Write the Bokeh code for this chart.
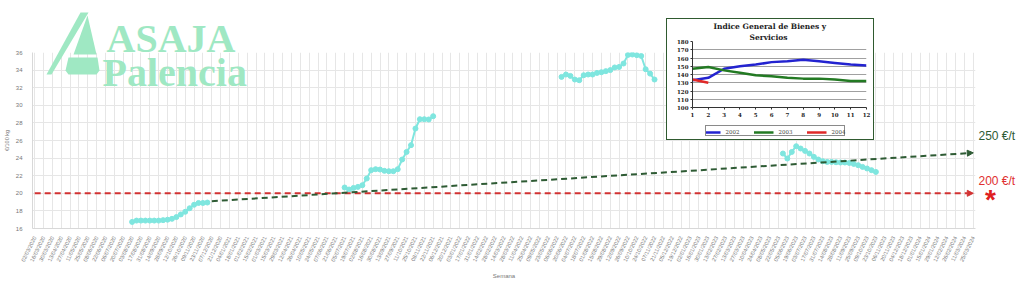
import math
import pandas as pd
from bokeh.plotting import figure
from bokeh.models import (Range1d, FixedTicker, Arrow, NormalHead,
                          Legend, LegendItem, Title)
from bokeh.embed import file_html
from bokeh.resources import INLINE
from bokeh.core.properties import value

# ---------------- data ----------------
semanas = [d.strftime("%d/%m/%Y") for d in pd.date_range("2020-03-02", periods=213, freq="7D")]
y_ticks = [16, 18, 20, 22, 24, 26, 28, 30, 32, 34, 36]

inicio_2020 = "03/08/2020"
precio_2020 = [16.75, 16.9, 16.9, 16.9, 16.9, 16.9, 16.9, 16.95, 17.0, 17.1,
               17.3, 17.6, 17.9, 18.3, 18.7, 18.9, 18.9, 18.95]
inicio_2021 = "05/07/2021"
precio_2021 = [20.66, 20.43, 20.61, 20.73, 20.92, 21.68, 22.63, 22.74, 22.7, 22.55,
               22.51, 22.51, 22.74, 23.84, 24.7, 25.47, 27.36, 28.42, 28.42, 28.39, 28.76]
inicio_2022 = "13/06/2022"
precio_2022 = [33.23, 33.5, 33.34, 32.93, 32.85, 33.42, 33.5, 33.5, 33.68, 33.76,
               33.88, 34.0, 34.3, 34.36, 34.75, 35.73, 35.77, 35.7, 35.6, 34.1, 33.6, 32.93]
inicio_2023 = "29/05/2023"
precio_2023 = [24.52, 23.95, 24.7, 25.35, 25.09, 24.82, 24.52, 24.14, 23.84, 23.65,
               23.57, 23.57, 23.53, 23.5, 23.5, 23.45, 23.34, 23.19, 23.0, 22.82, 22.63, 22.43]

objetivo_semanas = [semanas[0], semanas[-1]]
objetivo = [20.0, 20.0]          # 200 €/t
tendencia_semanas = ["07/12/2020", semanas[-1]]
tendencia = [19.1, 24.6]         # hacia 250 €/t

# inset: Indice General de Bienes y Servicios
meses = [1, 2, 3, 4, 5, 6, 7, 8, 9, 10, 11, 12]
ind_y_ticks = [100, 110, 120, 130, 140, 150, 160, 170, 180]
indice_2002 = [133, 136, 147, 150, 152, 155, 156, 158, 156, 154, 152, 151]
indice_2003 = [147, 149, 145, 142, 139, 138, 136, 135, 135, 134, 132, 132]
indice_2004 = [134, 130]
anios = ["2002", "2003", "2004"]

# ---------------- styles ----------------
CYAN = "#7fe6df"
GRID = "#e6e6e6"
RED = "#d23232"
DGREEN = "#2e5b34"
MINT = "#9fe8c3"
SANS = "Liberation Sans"
SERIF = "Liberation Serif"
DSERIF = "DejaVu Serif"
C02, C03, C04 = "#2323d0", "#237a23", "#e02828"

N = len(semanas)
idx = {s: i for i, s in enumerate(semanas)}

p = figure(width=1024, height=282, output_backend="svg", toolbar_location=None,
           x_range=Range1d(-0.5, N - 0.5), y_range=Range1d(16, 36),
           min_border_left=25, min_border_right=49, min_border_top=52,
           min_border_bottom=54)
p.outline_line_color = None
p.background_fill_color = "white"
p.border_fill_color = "white"

lab_ticks = list(range(0, N, 2))
p.xaxis.ticker = FixedTicker(ticks=lab_ticks)
p.xgrid.ticker = FixedTicker(ticks=lab_ticks)
p.xaxis.major_label_overrides = {i: semanas[i] for i in lab_ticks}
p.xaxis.major_label_orientation = math.radians(64)
p.yaxis.ticker = FixedTicker(ticks=y_ticks)
p.grid.grid_line_color = GRID
p.grid.grid_line_width = 1
for ax in (p.xaxis, p.yaxis):
    ax.axis_line_color = "#d8d8d8"
    ax.major_tick_line_color = None
    ax.minor_tick_line_color = None
    ax.major_label_text_font = SANS
    ax.major_label_text_color = "#777777"
    ax.axis_label_text_font = SANS
    ax.axis_label_text_color = "#777777"
    ax.axis_label_text_font_style = "normal"
p.xaxis.major_label_text_font_size = "5.5px"
p.yaxis.major_label_text_font_size = "6px"
p.xaxis.major_label_standoff = 2
p.yaxis.major_label_standoff = 4
p.xaxis.axis_label = "Semana"
p.xaxis.axis_label_text_font_size = "6px"
p.xaxis.axis_label_standoff = 6
p.yaxis.axis_label = "€/100 kg"
p.yaxis.axis_label_text_font_size = "5.5px"
p.yaxis.axis_label_standoff = 3

# reference lines (arrows)
p.add_layout(Arrow(x_start=idx[objetivo_semanas[0]], y_start=objetivo[0],
                   x_end=idx[objetivo_semanas[1]], y_end=objetivo[1],
                   line_color=RED, line_width=2, line_dash="6 4",
                   end=NormalHead(size=6, fill_color=RED, line_color=RED)))
p.add_layout(Arrow(x_start=idx[tendencia_semanas[0]], y_start=tendencia[0],
                   x_end=idx[tendencia_semanas[1]], y_end=tendencia[1],
                   line_color=DGREEN, line_width=2, line_dash="6 4",
                   end=NormalHead(size=6, fill_color=DGREEN, line_color=DGREEN)))

# price series
for inicio, vals in [(inicio_2020, precio_2020), (inicio_2021, precio_2021),
                     (inicio_2022, precio_2022), (inicio_2023, precio_2023)]:
    s = idx[inicio]
    xs = list(range(s, s + len(vals)))
    p.line(xs, vals, line_color=CYAN, line_width=2)
    p.scatter(xs, vals, size=5, fill_color=CYAN, line_color=CYAN)

# ---------------- right-hand annotations (shares the price y-range) ----------------
side = figure(width=49, height=282, output_backend="svg", toolbar_location=None,
              x_range=Range1d(0, 49), y_range=p.y_range,
              x_axis_location=None, y_axis_location=None,
              min_border_left=0, min_border_right=0, min_border_top=52,
              min_border_bottom=54,
              styles={"position": "absolute", "left": "975px", "top": "0px"})
side.grid.visible = False
side.outline_line_color = None
side.background_fill_color = None
side.border_fill_color = None
side.text(x=[3], y=[tendencia[1]], text=["250 €/t"], y_offset=-17,
          text_font=value(SANS), text_font_size="12px", text_color=DGREEN,
          text_baseline="middle")
side.text(x=[3], y=[objetivo[1]], text=["200 €/t"], y_offset=-12,
          text_font=value(SANS), text_font_size="12px", text_color="#e03030",
          text_baseline="middle")
side.text(x=[15], y=[objetivo[1]], text=["*"], y_offset=6,
          text_font=value(SANS), text_font_style="bold", text_font_size="28px",
          text_color="#e02020", text_align="center", text_baseline="alphabetic")

# ---------------- logo ----------------
logo = figure(width=262, height=95, output_backend="svg", toolbar_location=None,
              x_range=Range1d(0, 262), y_range=Range1d(95, 0),
              x_axis_location=None, y_axis_location=None, min_border=0,
              styles={"position": "absolute", "left": "0px", "top": "0px"})
logo.grid.visible = False
logo.outline_line_color = None
logo.background_fill_color = None
logo.border_fill_color = None
logo.patch([46, 51, 88, 80], [74, 74, 12, 12], fill_color=MINT, line_color=None)
logo.patch([73, 87, 96], [54, 15, 54], fill_color=MINT, line_color=None)
logo.patch([68, 97, 99, 96, 68, 65], [57, 57, 70, 74, 74, 70], fill_color=MINT, line_color=None)
logo.text(x=[106], y=[38], text=["ASAJA"], text_font=value(SERIF), text_font_style="bold",
          text_font_size="40px", text_color=MINT, text_baseline="alphabetic")
logo.text(x=[102], y=[72], text=["Palencia"], text_font=value(SERIF), text_font_style="bold",
          text_font_size="40px", text_color=MINT, text_baseline="alphabetic")

# ---------------- inset ----------------
ins = figure(width=208, height=122, output_backend="svg", toolbar_location=None,
             title=None,
             x_range=Range1d(1, 12), y_range=Range1d(100, 180),
             min_border_left=25, min_border_right=9, min_border_top=21,
             min_border_bottom=34,
             styles={"position": "absolute", "left": "666px", "top": "18px",
                     "border": "1.5px solid #2f5a2f", "background": "white"})
ins.outline_line_color = None
for txt, off in [("Servicios", 57), ("Indice General de Bienes y", 21)]:
    ins.add_layout(Title(text=txt, align="left", offset=off, standoff=0,
                         text_font=DSERIF, text_font_size="7.5px",
                         text_font_style="bold", text_color="#222222",
                         text_line_height=0.85), "above")
ins.xaxis.ticker = FixedTicker(ticks=meses)
ins.yaxis.ticker = FixedTicker(ticks=ind_y_ticks)
ins.xgrid.visible = False
ins.ygrid.grid_line_color = "#a0a0a0"
for ax in (ins.xaxis, ins.yaxis):
    ax.axis_line_color = "#333333"
    ax.major_tick_line_color = "#333333"
    ax.major_tick_in = 0
    ax.major_tick_out = 2
    ax.minor_tick_line_color = None
    ax.major_label_text_font = DSERIF
    ax.major_label_text_font_style = "bold"
    ax.major_label_text_font_size = "5.5px"
    ax.major_label_text_color = "#222222"
    ax.major_label_standoff = 2
ins.line(meses, indice_2002, line_color=C02, line_width=2.5)
ins.line(meses, indice_2003, line_color=C03, line_width=2.5)
ins.line(meses[:len(indice_2004)], indice_2004, line_color=C04, line_width=2.5)

# legend of the inset (own small canvas below the inset's axis)
legf = figure(width=140, height=11, output_backend="svg", toolbar_location=None,
              x_range=Range1d(-10, -9), y_range=Range1d(-10, -9),
              x_axis_location=None, y_axis_location=None, min_border=0,
              styles={"position": "absolute", "left": "705px", "top": "125px",
                      "border": "1px solid #8a8a8a", "background": "white"})
legf.grid.visible = False
legf.outline_line_color = None
legf.background_fill_color = None
legf.border_fill_color = None
items = []
for anio, serie, col in zip(anios, [indice_2002, indice_2003, indice_2004], [C02, C03, C04]):
    r = legf.line(meses[:len(serie)], serie, line_color=col, line_width=2.5)
    items.append(LegendItem(label=anio, renderers=[r]))
leg = Legend(items=items, orientation="horizontal", location="center",
             label_text_font=DSERIF, label_text_font_size="5.5px",
             label_height=6, glyph_width=20, glyph_height=6, spacing=8,
             padding=1, margin=0, label_standoff=5,
             border_line_color=None, background_fill_color=None)
legf.add_layout(leg)

open("out.html", "w").write(file_html([p, side, logo, ins, legf], INLINE))
